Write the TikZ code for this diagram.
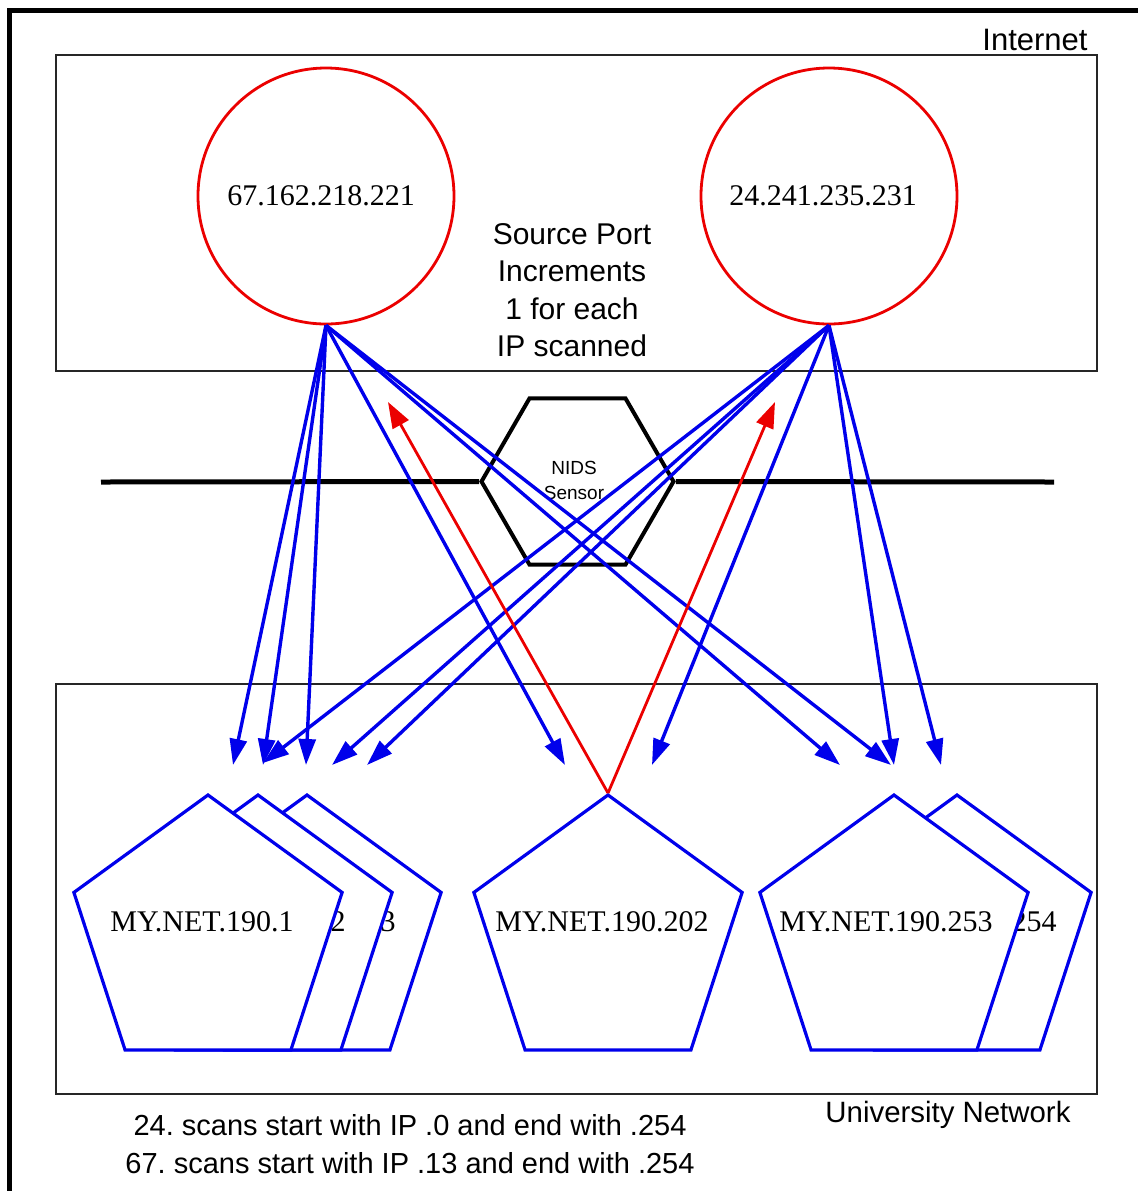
\documentclass[tikz,border=0pt]{standalone}
\usepackage{fontspec}
\setmainfont{Liberation Serif}
\newfontfamily\arialish{Liberation Sans}
\usetikzlibrary{arrows.meta,shapes.geometric}
\definecolor{netblue}{RGB}{0,0,235}
\definecolor{srcred}{RGB}{235,0,0}
\frenchspacing
\begin{document}
\begin{tikzpicture}[x=0.5pt,y=-0.5pt,
  box/.style={draw=black!85,line width=0.8pt},
  host/.style={draw=srcred,line width=1.4pt,circle,minimum size=128pt,inner sep=0pt},
  target/.style={draw=netblue,fill=white,line width=1.6pt,regular polygon,regular polygon sides=5,minimum size=141pt,inner sep=0pt},
  addr/.style={font=\fontsize{15}{18}\selectfont,inner sep=0pt},
  note/.style={font=\arialish\fontsize{15}{18.75}\selectfont,align=center,inner sep=0pt},
  probe/.style={draw=netblue,line width=1.7pt,-{Triangle[length=13pt,width=8.5pt]}},
  reply/.style={draw=srcred,line width=1.4pt,-{Triangle[length=13pt,width=9pt]}},
]
\useasboundingbox (0,0) rectangle (1138,1191);
\clip (0,0) rectangle (1138,1191);

% outer frame (runs off the right and bottom edges)
\draw[line width=2.3pt] (9.5,10.5) rectangle (1160,1210);

% zones
\draw[box] (56,55) rectangle (1097,371);
\node[note,anchor=base,font=\arialish\fontsize{15.5}{18}\selectfont] (inet) at (1035,50) {Internet};
\draw[box] (56,684) rectangle (1097,1094);
\node[note,font=\arialish\fontsize{14.7}{18}\selectfont] (univ) at (948,1115) {University Network};

% scanning hosts
\node[host] (c67) at (326,196) {};
\node[addr] (t67) at (321,196) {67.162.218.221};
\node[host] (c24) at (829,196) {};
\node[addr] (t24) at (823,196) {24.241.235.231};
\node[note] (srcport) at (572,290) {Source Port\\Increments\\1 for each\\IP scanned};

% network wire and sensor
\coordinate (wireL) at (101,482);
\coordinate (wireR) at (1054,482);
\node[draw=black,line width=2pt,fill=white,regular polygon,regular polygon sides=6,minimum size=96pt,inner sep=0pt] (nids) at (577.5,481.5) {};
\draw[line width=2.5pt] (wireL) -- (nids.west);
\draw[line width=2.5pt] (nids.east) -- (wireR);
\node[note,font=\arialish\fontsize{9.5}{12.5}\selectfont] (nidslbl) at (574,480) {NIDS\\Sensor};

% scanned hosts, back to front
\node[target] (p3) at (307,936) {};
\node[addr,anchor=east] (l3) at (396,922) {3};
\node[target] (p2) at (258,936) {};
\node[addr,anchor=east] (l2) at (346,922) {2};
\node[target] (p1) at (208,936) {};
\node[addr] (l1) at (202,922) {MY.NET.190.1};

\node[target] (p202) at (608,936) {};
\node[addr] (l202) at (602,922) {MY.NET.190.202};

\node[target] (p254) at (957,936) {};
\node[addr,anchor=east] (l254) at (1057,922) {254};
\node[target] (p253) at (894,936) {};
\node[addr] (l253) at (886,922) {MY.NET.190.253};

% probe arrow ends
\coordinate (a1) at (233,765);
\coordinate (a2) at (263,765);
\coordinate (a3) at (306,765);
\coordinate (b1) at (263,763);
\coordinate (b2) at (332,765);
\coordinate (b3) at (367,765);
\coordinate (am) at (565,765);
\coordinate (bm) at (652,765);
\coordinate (a4) at (840,765);
\coordinate (a5) at (891,765);
\coordinate (b4) at (894,765);
\coordinate (b5) at (941,765);
\coordinate (r1) at (388,402);
\coordinate (r2) at (775,402);

% probes from 67.162.218.221
\draw[probe] (c67.south) -- (a1);
\draw[probe] (c67.south) -- (a2);
\draw[probe] (c67.south) -- (a3);
\draw[probe] (c67.south) -- (am);
\draw[probe] (c67.south) -- (a4);
\draw[probe] (c67.south) -- (a5);

% probes from 24.241.235.231
\draw[probe] (c24.south) -- (b1);
\draw[probe] (c24.south) -- (b2);
\draw[probe] (c24.south) -- (b3);
\draw[probe] (c24.south) -- (bm);
\draw[probe] (c24.south) -- (b4);
\draw[probe] (c24.south) -- (b5);

% replies from MY.NET.190.202
\draw[reply] (p202.corner 1) -- (r1);
\draw[reply] (p202.corner 1) -- (r2);

% scan ranges
\node[note,font=\arialish\fontsize{14.5}{19}\selectfont] (ranges) at (410,1144) {24. scans start with IP .0 and end with .254\\67. scans start with IP .13 and end with .254};
\end{tikzpicture}
\end{document}
